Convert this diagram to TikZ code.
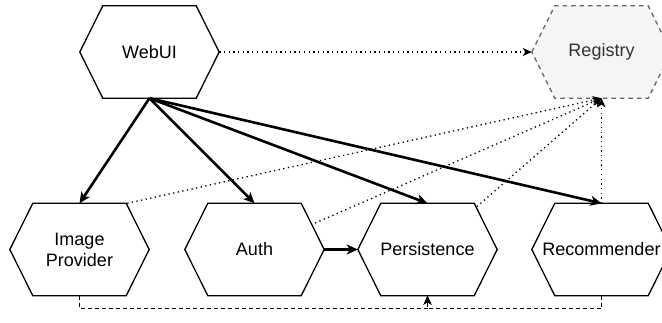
\documentclass[tikz,border=0pt]{standalone}
\usepackage{fontspec}
\setmainfont{Liberation Sans}
\usetikzlibrary{arrows.meta,calc}
\definecolor{regfill}{HTML}{F5F5F5}
\definecolor{regline}{HTML}{666666}
\definecolor{regtext}{HTML}{333333}
\newcommand\hexoutline[2]{%
  \draw[#2] (#1.west) -- ($(#1.north west)+(23,0)$) -- ($(#1.north east)+(-23,0)$)
    -- (#1.east) -- ($(#1.south east)+(-23,0)$) -- ($(#1.south west)+(23,0)$) -- cycle;}
\begin{document}
\begin{tikzpicture}[x=1pt,y=-1pt,
  hexnode/.style={minimum width=139pt,minimum height=92pt,inner sep=0pt,align=center,
    font=\fontsize{18}{21}\selectfont},
  hexline/.style={line width=1.3pt,draw=black,fill=white},
  reghex/.style={line width=1.3pt,draw=regline,fill=regfill,dash pattern=on 4.5pt off 4pt},
  thickarrow/.style={line width=2.6pt,-{Stealth[length=11pt,width=10pt,inset=3pt]}},
  dotarrow/.style={line width=1.3pt,dash pattern=on 1.3pt off 3.4pt,-{Stealth[length=9pt,width=8pt,inset=2.5pt]}},
  dasharrow/.style={line width=1.3pt,dash pattern=on 4pt off 3pt,-{Stealth[length=9pt,width=8pt,inset=2.5pt]}}]
\useasboundingbox (0,0) rectangle (662,322);
\begin{scope}
\clip (0,0) rectangle (662,322);
% nodes (positions)
\node[hexnode] (web) at (149.5,52) {};
\node[hexnode] (reg) at (601.5,52) {};
\node[hexnode] (img) at (79.5,249.5) {};
\node[hexnode] (auth) at (254.5,249.5) {};
\node[hexnode] (pers) at (427.5,249.5) {};
\node[hexnode] (rec) at (601.5,249.5) {};
% outlines
\hexoutline{web}{hexline}
\hexoutline{reg}{reghex}
\hexoutline{img}{hexline}
\hexoutline{auth}{hexline}
\hexoutline{pers}{hexline}
\hexoutline{rec}{hexline}
% labels
\node[hexnode] at (web) {WebUI};
\node[hexnode,text=regtext] at (reg) {Registry};
\node[hexnode] at (img) {Image\\Provider};
\node[hexnode] at (auth) {Auth};
\node[hexnode] at (pers) {Persistence};
\node[hexnode] at (rec) {Recommender};
% perimeter points
\coordinate (imgexit) at ($(img.north east)+(-22,0)$);
\coordinate (authexit) at ($(auth.center)!0.1746!(reg.south)$);
\coordinate (persexit) at ($(pers.center)!0.2834!(reg.south)$);
% connectors
\draw[dotarrow] (web.east) -- (reg.west);
\draw[thickarrow] (web.south) -- (img.north);
\draw[thickarrow] (web.south) -- (auth.north);
\draw[thickarrow] (web.south) -- (pers.north);
\draw[thickarrow] (web.south) -- (rec.north);
\draw[thickarrow] (auth.east) -- (pers.west);
\draw[dotarrow] (imgexit) -- (reg.south);
\draw[dotarrow] (authexit) -- (reg.south);
\draw[dotarrow] (persexit) -- (reg.south);
\draw[dotarrow] (rec.north) -- (reg.south);
\draw[dasharrow] (img.south) -- ++(0,13) -| (pers.south);
\draw[dasharrow] (rec.south) -- ++(0,13) -| (pers.south);
\end{scope}
\end{tikzpicture}
\end{document}
